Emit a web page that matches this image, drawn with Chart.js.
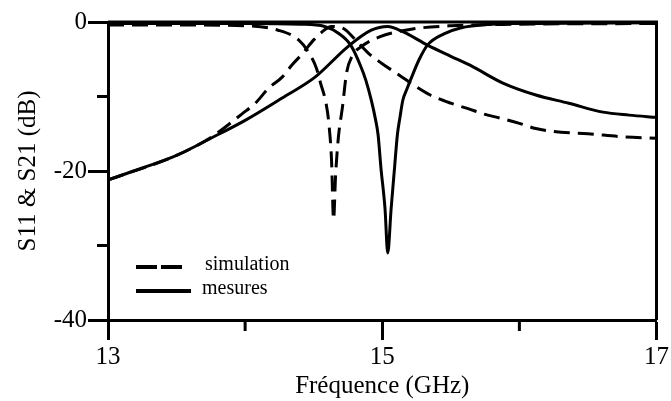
<!DOCTYPE html>
<html>
<head>
<meta charset="utf-8">
<script src="https://cdn.jsdelivr.net/npm/chart.js@4.4.1/dist/chart.umd.min.js"></script>
<style>
  html, body { margin: 0; padding: 0; background: #fff; }
  canvas { display: block; }
</style>
</head>
<body>
<canvas id="chart" width="671" height="401"></canvas>
<script>
// simulated S11 (dashed)
const simS11Freq = [13.0, 13.5, 14.0, 14.24, 14.39, 14.46, 14.52, 14.55, 14.59, 14.61, 14.63, 14.645, 14.66, 14.68, 14.71, 14.74, 14.78, 14.84, 14.98, 15.2, 15.5, 16.0, 17.0];
const simS11 = [-0.4, -0.4, -0.5, -1.1, -2.4, -4.0, -6.2, -8.2, -10.9, -13.5, -18.5, -26.5, -20.5, -15.5, -11.4, -6.8, -4.6, -3.4, -2.0, -1.0, -0.5, -0.3, -0.2];

// simulated S21 (dashed)
const simS21Freq = [13.0, 13.5, 13.75, 13.98, 14.08, 14.17, 14.27, 14.34, 14.42, 14.5, 14.55, 14.63, 14.72, 14.8, 14.9, 15.0, 15.13, 15.24, 15.35, 15.5, 15.62, 15.75, 15.86, 16.0, 16.12, 16.25, 16.5, 16.75, 17.0];
const simS21 = [-21.2, -17.9, -15.5, -12.3, -10.8, -8.9, -7.4, -5.8, -4.2, -2.4, -1.5, -0.6, -0.9, -2.3, -4.2, -5.6, -7.2, -8.6, -9.8, -10.9, -11.6, -12.4, -12.9, -13.6, -14.3, -14.7, -15.0, -15.4, -15.6];

// measured S11 (solid)
const measS11Freq = [13.0, 14.0, 14.4, 14.58, 14.68, 14.77, 14.84, 14.88, 14.92, 14.95, 14.97, 14.99, 15.02, 15.04, 15.065, 15.09, 15.11, 15.13, 15.15, 15.18, 15.21, 15.27, 15.33, 15.45, 15.57, 15.8, 16.0, 17.0];
const measS11 = [-0.2, -0.2, -0.3, -0.6, -1.5, -3.1, -5.8, -7.8, -10.5, -13.0, -15.2, -19.5, -25.0, -31.0, -25.0, -19.5, -15.2, -12.7, -10.5, -9.0, -7.6, -5.0, -3.1, -1.6, -0.8, -0.3, -0.2, -0.1];

// measured S21 (solid)
const measS21Freq = [13.0, 13.25, 13.5, 13.75, 14.0, 14.27, 14.51, 14.75, 14.92, 15.04, 15.15, 15.33, 15.5, 15.64, 15.88, 16.12, 16.36, 16.61, 16.8, 17.0];
const measS21 = [-21.2, -19.6, -17.9, -15.6, -13.2, -10.2, -7.4, -3.3, -1.1, -0.6, -1.3, -3.1, -4.6, -5.8, -8.2, -9.8, -10.9, -12.1, -12.5, -12.8];

const xMajorTicks = [13, 15, 17];
const xMinorTicks = [14, 16];
const yMajorTicks = [0, -20, -40];
const yMinorTicks = [-10, -30];

const legendItems = [
  { label: "simulation", dash: [21, 4] },
  { label: "mesures", dash: [] },
];

const toPoints = (xs, ys) => xs.map((x, i) => ({ x: x, y: ys[i] }));

const lineStyle = (dash) => ({
  borderColor: "#000",
  borderWidth: 3,
  borderDash: dash,
  pointRadius: 0,
  fill: false,
  cubicInterpolationMode: "monotone",
});

// frame, minor ticks and legend
const framePlugin = {
  id: "frame",
  afterDraw: (chart) => {
    const { ctx, chartArea: a, scales } = chart;
    ctx.save();
    ctx.strokeStyle = "#000";
    ctx.lineWidth = 3;
    ctx.beginPath();
    ctx.moveTo(a.left, a.top);
    ctx.lineTo(a.right, a.top);
    ctx.lineTo(a.right, a.bottom);
    ctx.stroke();

    ctx.beginPath();
    xMinorTicks.forEach((v) => {
      const px = scales.x.getPixelForValue(v);
      ctx.moveTo(px, a.bottom);
      ctx.lineTo(px, a.bottom + 11);
    });
    yMinorTicks.forEach((v) => {
      const py = scales.y.getPixelForValue(v);
      ctx.moveTo(a.left, py);
      ctx.lineTo(a.left - 11, py);
    });
    ctx.stroke();

    // legend
    ctx.font = "20px 'Liberation Serif'";
    ctx.fillStyle = "#000";
    ctx.textBaseline = "middle";
    legendItems.forEach((item, i) => {
      const y = 267 + i * 24;
      ctx.lineWidth = 4;
      ctx.setLineDash(item.dash);
      ctx.beginPath();
      ctx.moveTo(136, y);
      ctx.lineTo(i === 0 ? 183 : 191, y);
      ctx.stroke();
      ctx.setLineDash([]);
      ctx.fillText(item.label, i === 0 ? 205 : 202, y - 2);
    });
    ctx.restore();
  },
};

new Chart(document.getElementById("chart"), {
  type: "line",
  data: {
    datasets: [
      { label: "S11 simulation", data: toPoints(simS11Freq, simS11), ...lineStyle([16, 8]) },
      { label: "S21 simulation", data: toPoints(simS21Freq, simS21), ...lineStyle([16, 8]) },
      { label: "S11 mesures", data: toPoints(measS11Freq, measS11), ...lineStyle([]) },
      { label: "S21 mesures", data: toPoints(measS21Freq, measS21), ...lineStyle([]) },
    ],
  },
  options: {
    responsive: false,
    animation: false,
    layout: { autoPadding: false, padding: { top: 22, right: 10, left: 0, bottom: 0 } },
    font: { family: "'Liberation Serif'" },
    plugins: {
      legend: { display: false },
      tooltip: { enabled: false },
    },
    scales: {
      x: {
        type: "linear",
        min: 13,
        max: 17,
        afterBuildTicks: (scale) => {
          scale.ticks = xMajorTicks.map((v) => ({ value: v }));
        },
        afterFit: (scale) => {
          scale.height = 81;
        },
        border: { display: true, color: "#000", width: 3 },
        grid: { drawOnChartArea: false, drawTicks: true, tickLength: 20, tickWidth: 3, tickColor: "#000" },
        ticks: { color: "#000", padding: 2, maxRotation: 0, font: { family: "'Liberation Serif'", size: 25 } },
        title: {
          display: true,
          text: "Fréquence (GHz)",
          color: "#000",
          padding: { top: 0, bottom: 0 },
          font: { family: "'Liberation Serif'", size: 25 },
        },
      },
      y: {
        min: -40,
        max: 0,
        afterBuildTicks: (scale) => {
          scale.ticks = yMajorTicks.map((v) => ({ value: v }));
        },
        afterFit: (scale) => {
          scale.width = 108;
        },
        border: { display: true, color: "#000", width: 3 },
        grid: { drawOnChartArea: false, drawTicks: true, tickLength: 20, tickWidth: 3, tickColor: "#000" },
        ticks: { color: "#000", padding: 1, font: { family: "'Liberation Serif'", size: 25 } },
        title: {
          display: true,
          text: "S11 & S21 (dB)",
          color: "#000",
          padding: { top: 13, bottom: 0 },
          font: { family: "'Liberation Serif'", size: 25 },
        },
      },
    },
  },
  plugins: [framePlugin],
});
</script>
</body>
</html>
